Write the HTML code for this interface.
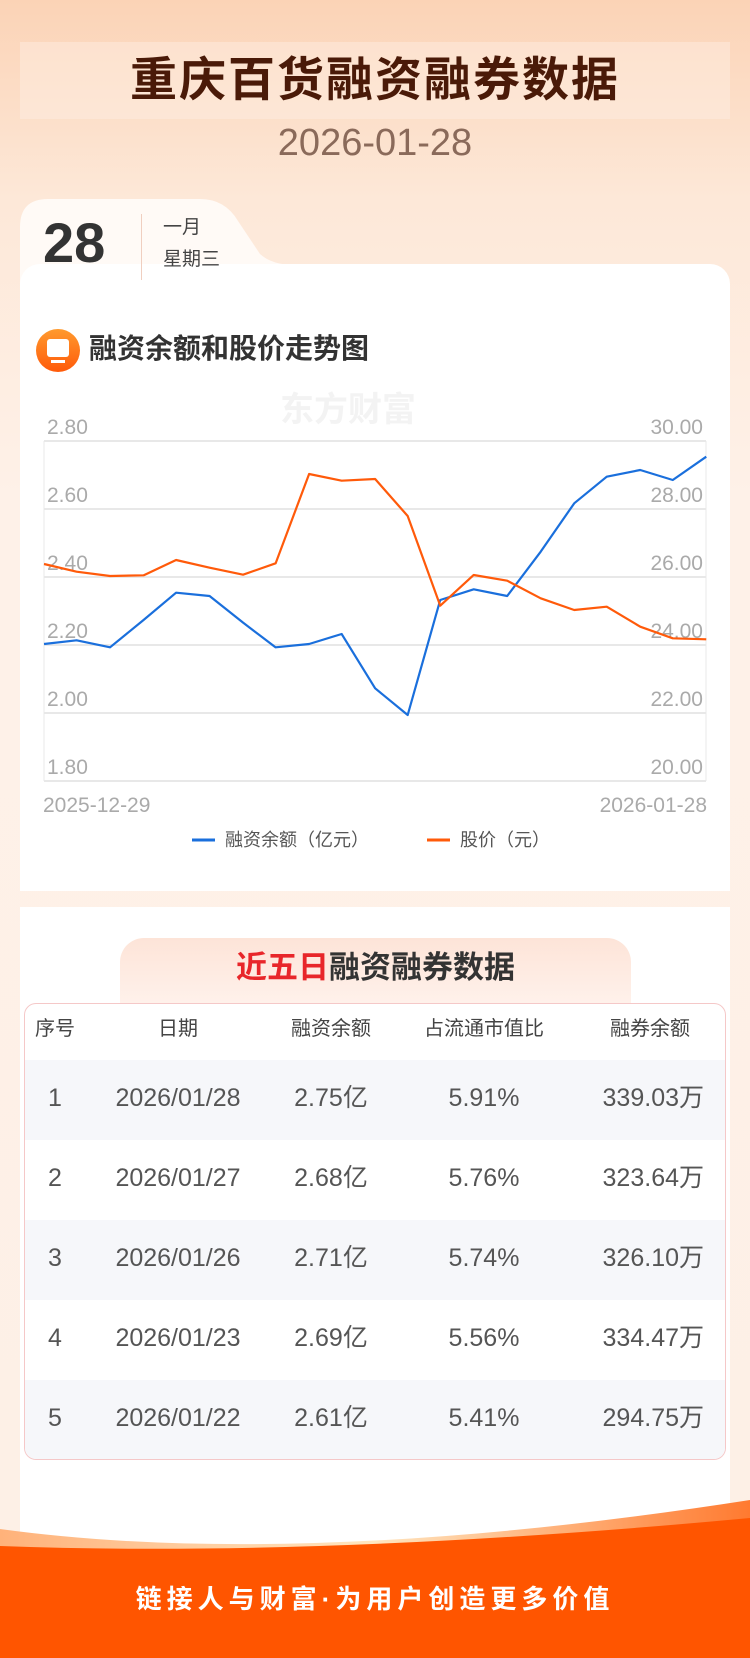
<!DOCTYPE html>
<html><head><meta charset="utf-8"><style>
*{margin:0;padding:0;box-sizing:border-box}
body{width:750px;height:1658px;position:relative;overflow:hidden;font-family:"Liberation Sans","Noto Sans CJK SC",sans-serif;background:linear-gradient(180deg,#fbd3b6 0%,#fde8d8 12%,#fef1e8 30%,#fdf0e6 100%)}
.abs{position:absolute}
</style></head><body>
<div class="abs" style="left:20px;top:42px;width:710px;height:77px;background:rgba(255,240,228,0.45)"></div>
<div class="abs" style="left:0;top:50px;width:750px;text-align:center;font-size:47px;font-weight:bold;color:#4a1a08;line-height:60px;letter-spacing:2px">重庆百货融资融券数据</div>
<div class="abs" style="left:0;top:121px;width:750px;text-align:center;font-size:38px;color:#8a6a5a;line-height:44px">2026-01-28</div>
<!-- tab -->
<svg class="abs" style="left:20px;top:199px" width="280" height="100"><path d="M0,100 L0,28 Q0,0 28,0 L180,0 Q205,0 218,22 L240,55 Q252,66 275,66 L280,66 L280,100Z" fill="#fffaf6"/></svg>
<div class="abs" style="left:20px;top:264px;width:710px;height:627px;background:#fff;border-radius:20px 20px 0 0"></div>
<div class="abs" style="left:20px;top:290px;width:710px;height:40px;background:#fff"></div>
<div class="abs" style="left:43px;top:212px;font-size:56px;font-weight:bold;color:#333;line-height:62px">28</div>
<div class="abs" style="left:141px;top:214px;width:1px;height:66px;background:#f0cfc0"></div>
<div class="abs" style="left:163px;top:215px;font-size:19px;color:#444;line-height:26px">一月</div>
<div class="abs" style="left:163px;top:247px;font-size:19px;color:#444;line-height:26px">星期三</div>
<!-- chart title -->
<div class="abs" style="left:36px;top:329px;width:44px;height:43px;border-radius:50%;background:linear-gradient(180deg,#ff9a2e,#ff5a0a)"></div>
<div class="abs" style="left:47px;top:339px;width:22px;height:18px;border-radius:3px;background:#fff"></div>
<div class="abs" style="left:51px;top:360px;width:14px;height:3px;background:#fff"></div>
<div class="abs" style="left:89px;top:330px;font-size:28px;font-weight:bold;color:#333;line-height:38px">融资余额和股价走势图</div>
<div class="abs" style="left:280px;top:390px;font-size:34px;font-weight:bold;color:#f3f3f3;line-height:40px">东方财富</div>
<svg class="abs" style="left:0;top:0" width="750" height="900">
<g stroke="#e8e8e8" stroke-width="2">
<line x1="44" y1="441" x2="706" y2="441"/><line x1="44" y1="509" x2="706" y2="509"/><line x1="44" y1="577" x2="706" y2="577"/><line x1="44" y1="645" x2="706" y2="645"/><line x1="44" y1="713" x2="706" y2="713"/><line x1="44" y1="781" x2="706" y2="781"/>
<line x1="44" y1="441" x2="44" y2="781" stroke-width="1"/><line x1="706" y1="441" x2="706" y2="781" stroke-width="1"/>
</g>
<g font-size="21" fill="#aaa" font-family="Liberation Sans,sans-serif">
<text x="47" y="434">2.80</text><text x="47" y="502">2.60</text><text x="47" y="570">2.40</text><text x="47" y="638">2.20</text><text x="47" y="706">2.00</text><text x="47" y="774">1.80</text>
<g text-anchor="end"><text x="703" y="434">30.00</text><text x="703" y="502">28.00</text><text x="703" y="570">26.00</text><text x="703" y="638">24.00</text><text x="703" y="706">22.00</text><text x="703" y="774">20.00</text>
<text x="707" y="812">2026-01-28</text></g>
<text x="43" y="812">2025-12-29</text>
</g>
<g transform="translate(0,380) scale(0.4785,0.33333)" fill="none" stroke-width="2.2" stroke-linejoin="round">
<polyline vector-effect="non-scaling-stroke" stroke="#1a6fdc" points="92,792 160,781 230,802 300,720 368,638 438,648 508,728 576,802 646,792 714,762 784,925 852,1005 920,660 990,628 1060,648 1130,515 1200,370 1268,290 1338,270 1406,300 1476,230"/>
<polyline vector-effect="non-scaling-stroke" stroke="#ff5a0a" points="92,552 160,575 230,588 300,586 368,540 438,563 508,584 576,550 646,282 714,302 784,297 852,408 920,677 990,585 1060,602 1130,655 1200,690 1268,680 1338,740 1406,775 1476,778"/>
</g>
<line x1="192" y1="840" x2="215" y2="840" stroke="#1a6fdc" stroke-width="3"/>
<line x1="427" y1="840" x2="450" y2="840" stroke="#ff5a0a" stroke-width="3"/>
<g font-size="18" fill="#555" font-family="Liberation Sans,Noto Sans CJK SC,sans-serif"><text x="225" y="846">融资余额（亿元）</text><text x="460" y="846">股价（元）</text></g>
</svg>
<!-- second card -->
<div class="abs" style="left:20px;top:907px;width:710px;height:640px;background:#fff"></div>
<div class="abs" style="left:120px;top:938px;width:511px;height:70px;background:linear-gradient(180deg,#fde4d8,#fff2ec);border-radius:24px 24px 0 0"></div>
<div class="abs" style="left:120px;top:948px;width:511px;text-align:center;font-size:31px;font-weight:bold;color:#333;line-height:40px"><span style="color:#e8262a">近五日</span>融资融券数据</div>
<div class="abs" style="left:24px;top:1003px;width:702px;height:457px;border:1px solid #f5c8c8;border-radius:12px;overflow:hidden;background:#fff">
<div style="position:absolute;left:0;top:56px;width:100%;height:80px;background:#f6f7fa"></div>
<div style="position:absolute;left:0;top:216px;width:100%;height:80px;background:#f6f7fa"></div>
<div style="position:absolute;left:0;top:376px;width:100%;height:80px;background:#f6f7fa"></div>
</div>
<div class="abs" style="left:0;top:1012px;width:750px;font-size:20px;color:#444;line-height:34px">
<span class="abs" style="left:25px;width:60px;text-align:center">序号</span><span class="abs" style="left:128px;width:100px;text-align:center">日期</span><span class="abs" style="left:271px;width:120px;text-align:center">融资余额</span><span class="abs" style="left:404px;width:160px;text-align:center">占流通市值比</span><span class="abs" style="left:580px;width:140px;text-align:center">融券余额</span></div>
<div class="abs" style="left:0;top:1080px;width:750px;font-size:25px;color:#555;line-height:36px">
<div class="abs" style="top:0;width:750px"><span class="abs" style="left:25px;width:60px;text-align:center">1</span><span class="abs" style="left:98px;width:160px;text-align:center">2026/01/28</span><span class="abs" style="left:271px;width:120px;text-align:center">2.75亿</span><span class="abs" style="left:404px;width:160px;text-align:center">5.91%</span><span class="abs" style="left:560px;width:144px;text-align:right">339.03万</span></div>
<div class="abs" style="top:80px;width:750px"><span class="abs" style="left:25px;width:60px;text-align:center">2</span><span class="abs" style="left:98px;width:160px;text-align:center">2026/01/27</span><span class="abs" style="left:271px;width:120px;text-align:center">2.68亿</span><span class="abs" style="left:404px;width:160px;text-align:center">5.76%</span><span class="abs" style="left:560px;width:144px;text-align:right">323.64万</span></div>
<div class="abs" style="top:160px;width:750px"><span class="abs" style="left:25px;width:60px;text-align:center">3</span><span class="abs" style="left:98px;width:160px;text-align:center">2026/01/26</span><span class="abs" style="left:271px;width:120px;text-align:center">2.71亿</span><span class="abs" style="left:404px;width:160px;text-align:center">5.74%</span><span class="abs" style="left:560px;width:144px;text-align:right">326.10万</span></div>
<div class="abs" style="top:240px;width:750px"><span class="abs" style="left:25px;width:60px;text-align:center">4</span><span class="abs" style="left:98px;width:160px;text-align:center">2026/01/23</span><span class="abs" style="left:271px;width:120px;text-align:center">2.69亿</span><span class="abs" style="left:404px;width:160px;text-align:center">5.56%</span><span class="abs" style="left:560px;width:144px;text-align:right">334.47万</span></div>
<div class="abs" style="top:320px;width:750px"><span class="abs" style="left:25px;width:60px;text-align:center">5</span><span class="abs" style="left:98px;width:160px;text-align:center">2026/01/22</span><span class="abs" style="left:271px;width:120px;text-align:center">2.61亿</span><span class="abs" style="left:404px;width:160px;text-align:center">5.41%</span><span class="abs" style="left:560px;width:144px;text-align:right">294.75万</span></div>
</div>
<!-- bottom wave -->
<svg class="abs" style="left:0;top:1470px" width="750" height="188">
<defs><linearGradient id="wg" x1="0" x2="1"><stop offset="0" stop-color="#ffb27a"/><stop offset="0.5" stop-color="#ffe6c0"/><stop offset="1" stop-color="#ff7a30"/></linearGradient></defs>
<path d="M0,59 Q300,100 750,30 L750,188 L0,188Z" fill="url(#wg)"/>
<path d="M0,76 Q320,88 750,48 L750,188 L0,188Z" fill="#ff5500"/>
</svg>
<div class="abs" style="left:0;top:1582px;width:750px;text-align:center;font-size:26px;font-weight:bold;color:#fff;letter-spacing:5px;line-height:34px">链接人与财富·为用户创造更多价值</div>
</body></html>
